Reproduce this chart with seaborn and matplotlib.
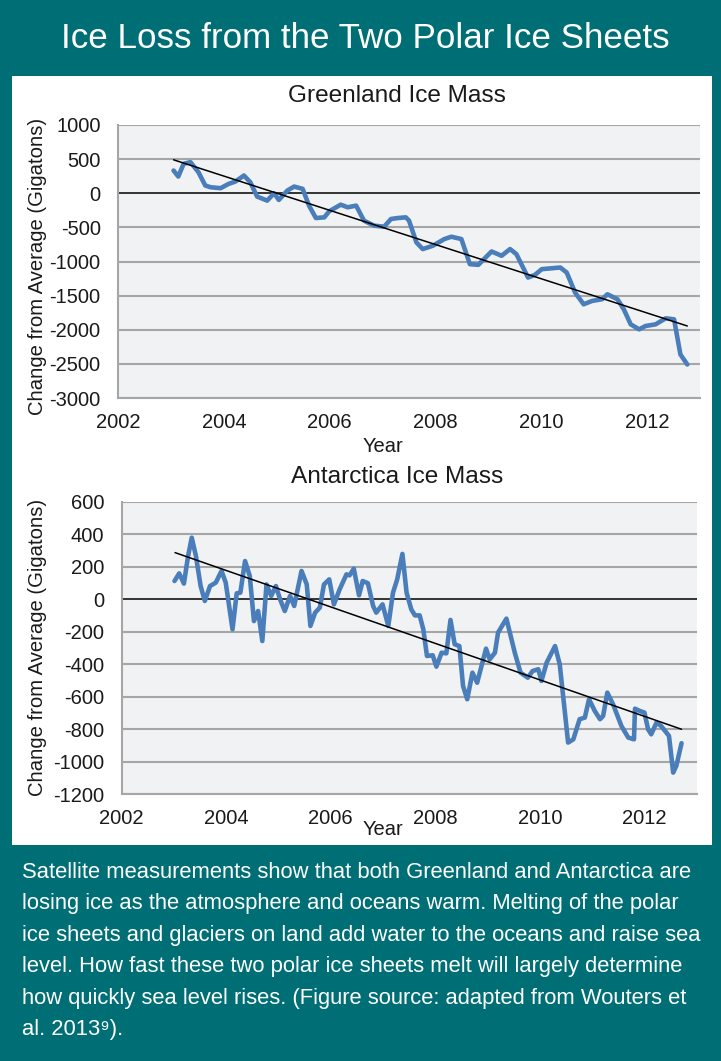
import matplotlib
matplotlib.use("Agg")
import matplotlib.pyplot as plt
import matplotlib.patches as patches
import seaborn as sns
import pandas as pd

# ============================
# DATA
# ============================
greenland_years = [2003.05, 2003.14, 2003.24, 2003.37, 2003.52, 2003.65, 2003.75, 2003.94,
                   2004.09, 2004.22, 2004.38, 2004.50, 2004.63, 2004.82, 2004.95, 2005.04,
                   2005.20, 2005.33, 2005.49, 2005.61, 2005.74, 2005.90, 2005.99, 2006.21,
                   2006.34, 2006.50, 2006.65, 2006.84, 2007.03, 2007.16, 2007.29, 2007.44,
                   2007.50, 2007.64, 2007.76, 2007.95, 2008.17, 2008.30, 2008.49, 2008.65,
                   2008.81, 2009.06, 2009.25, 2009.41, 2009.53, 2009.75, 2009.88, 2010.01,
                   2010.36, 2010.48, 2010.64, 2010.80, 2010.96, 2011.15, 2011.25, 2011.44,
                   2011.56, 2011.69, 2011.85, 2011.97, 2012.16, 2012.35, 2012.51, 2012.63,
                   2012.76]
greenland_mass = [333, 245, 431, 456, 309, 113, 88, 74,
                  137, 172, 260, 162, -49, -108, 0, -98,
                  39, 98, 64, -181, -363, -353, -265, -167,
                  -206, -181, -402, -475, -490, -377, -363, -353,
                  -400, -720, -818, -769, -671, -637, -671, -1039,
                  -1049, -853, -916, -818, -892, -1235, -1196, -1112,
                  -1088, -1161, -1455, -1627, -1578, -1553, -1480, -1553,
                  -1700, -1921, -1994, -1945, -1921, -1833, -1847, -2362,
                  -2509]
greenland_trend_years = [2003.05, 2012.76]
greenland_trend_mass = [490, -1945]

antarctica_years = [2003.01, 2003.10, 2003.19, 2003.27, 2003.34, 2003.42, 2003.51, 2003.59,
                    2003.69, 2003.80, 2003.91, 2003.99, 2004.12, 2004.20, 2004.27, 2004.36,
                    2004.45, 2004.53, 2004.61, 2004.69, 2004.77, 2004.86, 2004.95, 2005.03,
                    2005.12, 2005.22, 2005.30, 2005.44, 2005.54, 2005.61, 2005.70, 2005.79,
                    2005.87, 2005.97, 2006.06, 2006.17, 2006.30, 2006.36, 2006.44, 2006.54,
                    2006.61, 2006.71, 2006.81, 2006.87, 2006.99, 2007.10, 2007.19, 2007.27,
                    2007.37, 2007.45, 2007.54, 2007.61, 2007.70, 2007.77, 2007.84, 2007.95,
                    2008.02, 2008.12, 2008.21, 2008.29, 2008.37, 2008.46, 2008.53, 2008.61,
                    2008.71, 2008.80, 2008.97, 2009.04, 2009.14, 2009.20, 2009.36, 2009.52,
                    2009.63, 2009.77, 2009.86, 2009.97, 2010.03, 2010.13, 2010.29, 2010.38,
                    2010.54, 2010.64, 2010.76, 2010.86, 2010.94, 2011.05, 2011.15, 2011.21,
                    2011.29, 2011.40, 2011.56, 2011.69, 2011.80, 2011.82, 2011.91, 2012.00,
                    2012.07, 2012.13, 2012.23, 2012.32, 2012.47, 2012.55, 2012.61, 2012.71]
antarctica_mass = [113, 160, 97, 267, 380, 267, 82, -10,
                   82, 103, 175, 103, -185, 37, 41, 236,
                   144, -134, -72, -257, 92, 21, 82, 0,
                   -72, 21, -41, 175, 92, -164, -82, -51,
                   92, 123, -31, 62, 154, 148, 189, 25,
                   113, 99, -41, -82, -31, -164, 41, 123,
                   280, 41, -62, -99, -99, -185, -349, -345,
                   -415, -329, -333, -127, -277, -288, -534, -616,
                   -452, -514, -304, -370, -329, -205, -119, -329,
                   -452, -483, -442, -431, -503, -390, -288, -401,
                   -883, -863, -739, -729, -616, -688, -739, -719,
                   -575, -647, -781, -852, -863, -674, -688, -698,
                   -801, -832, -760, -781, -842, -1068, -1027, -887]
antarctica_trend_years = [2003.02, 2012.71]
antarctica_trend_mass = [288, -801]

x_ticks = [2002, 2004, 2006, 2008, 2010, 2012]
greenland_yticks = list(range(-3000, 1001, 500))
antarctica_yticks = list(range(-1200, 601, 200))

title = "Ice Loss from the Two Polar Ice Sheets"
caption_lines = [
    "Satellite measurements show that both Greenland and Antarctica are",
    "losing ice as the atmosphere and oceans warm. Melting of the polar",
    "ice sheets and glaciers on land add water to the oceans and raise sea",
    "level. How fast these two polar ice sheets melt will largely determine",
    "how quickly sea level rises. (Figure source: adapted from Wouters et",
    "al. 2013\u2079).",
]

# ============================
# STYLE
# ============================
sns.set_theme(style="white")
plt.rcParams['font.family'] = ['Liberation Sans', 'DejaVu Sans']

teal = '#006f75'
blue = '#4a7ebb'
grid_gray = '#a6a6a6'
panel_bg = '#f1f2f4'
text_color = '#1a1a1a'

fig = plt.figure(figsize=(7.21, 10.61), dpi=100, facecolor=teal)
fig.patches.append(patches.Rectangle((12 / 721, 1 - 845 / 1061), 700 / 721, 769 / 1061,
                                     transform=fig.transFigure, facecolor='white',
                                     edgecolor='none', zorder=-5))

fig.text(0.507, 1 - 38 / 1061, title, color='white', fontsize=25.2,
         ha='center', va='center')


def painel(rect, years, mass, t_years, t_mass, yticks, ylim, nome, title_y):
    ax = fig.add_axes(rect)
    ax.set_facecolor(panel_bg)
    df = pd.DataFrame({'Ano': years, 'Massa': mass})
    df_t = pd.DataFrame({'Ano': t_years, 'Massa': t_mass})
    for y in yticks:
        ax.axhline(y, color='black' if y == 0 else grid_gray,
                   lw=1.1 if y == 0 else 1.5, zorder=1)
    sns.lineplot(data=df, x='Ano', y='Massa', ax=ax, color=blue, lw=3.3, zorder=3)
    sns.lineplot(data=df_t, x='Ano', y='Massa', ax=ax, color='black', lw=1.1, zorder=4)
    ax.set_xlim(2002, 2013)
    ax.set_ylim(*ylim)
    ax.set_xticks(x_ticks)
    ax.set_yticks(yticks)
    ax.set_yticklabels([str(v) for v in yticks])
    for s in ['top', 'right']:
        ax.spines[s].set_visible(False)
    for s in ['left', 'bottom']:
        ax.spines[s].set_color(grid_gray)
        ax.spines[s].set_linewidth(1.5)
    ax.tick_params(axis='both', direction='out', width=1.5, color=grid_gray,
                   labelsize=14.5, labelcolor=text_color)
    ax.tick_params(axis='y', length=4.5, pad=8)
    ax.tick_params(axis='x', length=4.3, pad=6.5)
    ax.set_xlabel('Year', fontsize=14.5, color=text_color)
    ax.set_ylabel('Change from Average (Gigatons)', fontsize=14.6, color=text_color)
    ax.set_title(nome, fontsize=17.6, color=text_color, va='center', x=0.479, y=title_y,
                 pad=0)
    return ax


ax1 = painel([118 / 721, 1 - 398 / 1061, 582 / 721, 273 / 1061],
             greenland_years, greenland_mass, greenland_trend_years, greenland_trend_mass,
             greenland_yticks, (-3000, 1000), 'Greenland Ice Mass', 1 + 29 / 273)
ax1.xaxis.set_label_coords(0.455, -39 / 273)
ax1.yaxis.set_label_coords(-71 / 582, 0.482)

ax2 = painel([121.7 / 721, 1 - 794 / 1061, 575 / 721, 292 / 1061],
             antarctica_years, antarctica_mass, antarctica_trend_years, antarctica_trend_mass,
             antarctica_yticks, (-1200, 600), 'Antarctica Ice Mass', 1 + 25 / 292)
ax2.xaxis.set_label_coords(0.454, -26 / 292)
ax2.yaxis.set_label_coords(-75 / 575, 0.503)

for i, linha in enumerate(caption_lines):
    fig.text(22 / 721, 1 - (872 + i * 31.6) / 1061, linha, color='white', fontsize=15.8,
             ha='left', va='center')

fig.savefig('out.png', dpi=100, facecolor=teal)
